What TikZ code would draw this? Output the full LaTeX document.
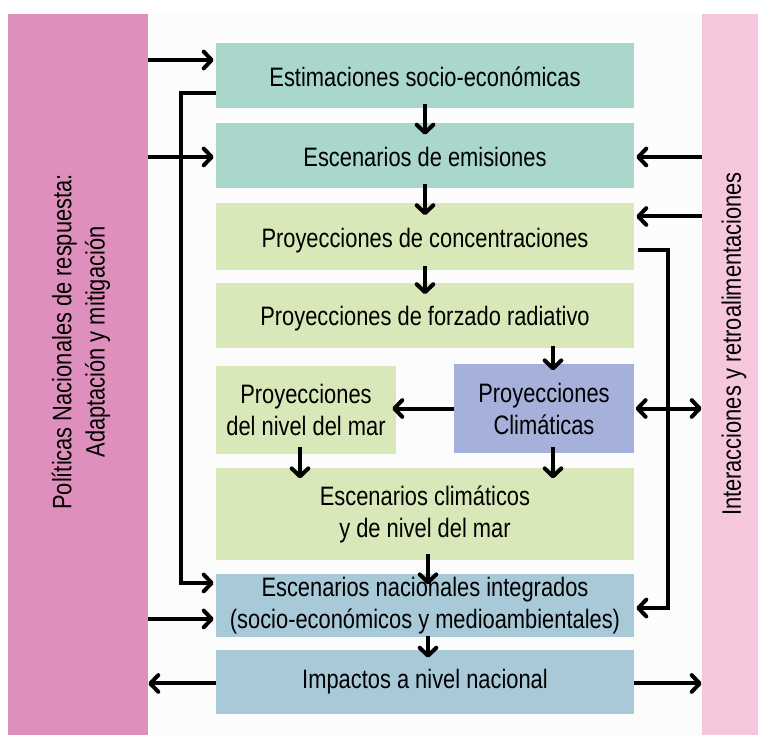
\documentclass[tikz,border=0pt]{standalone}
\usepackage{fontspec}
\setmainfont{Liberation Sans}[FakeStretch=0.82]
\usetikzlibrary{arrows.meta}
\definecolor{cteal}{HTML}{A9D7CB}
\definecolor{cgreen}{HTML}{D9E8B8}
\definecolor{clav}{HTML}{A6B1DB}
\definecolor{cblue}{HTML}{A8CAD8}
\definecolor{cpinkL}{HTML}{DF8FBC}
\definecolor{cpinkR}{HTML}{F5C6DC}
\definecolor{cpanel}{HTML}{FCFCFC}
\tikzset{
  bx/.style 2 args={draw=none, minimum width=#1*0.75pt, minimum height=#2*0.75pt, inner sep=0pt, align=center, font=\fontsize{20}{24}\selectfont},
  one/.style={text height=#1, text depth=0pt},
  tip/.tip={Straight Barb[length=6pt,width=12.5pt,line cap=round,line join=round]},
  arr/.style={line width=3pt, -tip},
  darr/.style={line width=3pt, tip-tip},
}
\begin{document}
\begin{tikzpicture}[x=0.75pt,y=-0.75pt]
\useasboundingbox (0,0) rectangle (758,735);
\fill[white] (0,0) rectangle (758,735);
\fill[cpanel] (148,14) rectangle (702,735);
% side bars
\node[bx={140}{721}, fill=cpinkL] (lb) at (78,374.5) {};
\node[bx={56}{721}, fill=cpinkR] (rb) at (730,374.5) {};
\node[rotate=90, align=center, font=\fontsize{20}{25}\selectfont] (lt) at (81,342) {Políticas Nacionales de respuesta:\\Adaptación y mitigación};
\node[rotate=90, font=\fontsize{20}{24}\selectfont] (rt) at (734,344) {Interacciones y retroalimentaciones};
% boxes
\node[bx={418}{65}, fill=cteal, one=16.5pt] (b1) at (425,75.5) {Estimaciones socio-económicas};
\node[bx={418}{65}, fill=cteal, one=15.8pt] (b2) at (425,155.5) {Escenarios de emisiones};
\node[bx={418}{66}, fill=cgreen, one=15.8pt] (b3) at (425,236.5) {Proyecciones de concentraciones};
\node[bx={418}{65}, fill=cgreen, one=16pt] (b4) at (425,315) {Proyecciones de forzado radiativo};
\node[bx={180}{88}, fill=cgreen] (b5) at (306,409.5) {Proyecciones\\del nivel del mar};
\node[bx={180}{89}, fill=clav] (b6) at (544,408.5) {Proyecciones\\Climáticas};
\node[bx={418}{92}, fill=cgreen] (b7) at (425,514) {Escenarios climáticos\\y de nivel del mar};
\node[bx={418}{63}, fill=cblue] (b8) at (425,605.5) {Escenarios nacionales integrados\\(socio-económicos y medioambientales)};
\node[bx={418}{64}, fill=cblue, one=9.8pt] (b9) at (425,682) {Impactos a nivel nacional};
% vertical flow arrows
\draw[arr] ([yshift=3pt]b1.south) -- ([yshift=-9pt]b2.north);
\draw[arr] ([yshift=3pt]b2.south) -- ([yshift=-9pt]b3.north);
\draw[arr] ([yshift=3pt]b3.south) -- ([yshift=-9pt]b4.north);
\draw[arr] ([xshift=6.75pt,yshift=1pt]b4.south -| b6.north) -- ([xshift=6.75pt,yshift=-5pt]b6.north);
\draw[arr] (b6.west) -- ([xshift=-3pt]b6.west -| b5.east);
\draw[arr] ([xshift=-4.5pt,yshift=5pt]b5.south) -- ([xshift=-4.5pt,yshift=-8pt]b7.north -| b5.south);
\draw[arr] ([xshift=6.75pt,yshift=5pt]b6.south) -- ([xshift=6.75pt,yshift=-8pt]b7.north -| b6.south);
\draw[arr] ([xshift=2.25pt,yshift=5pt]b7.south) -- ([xshift=2.25pt,yshift=-8pt]b8.north);
\draw[arr] ([xshift=2.25pt,yshift=1pt]b8.south) -- ([xshift=2.25pt,yshift=-6pt]b9.north);
% left bar arrows
\draw[arr] ([yshift=11.6pt]b1.west -| lb.east) -- ([xshift=-1.5pt,yshift=11.6pt]b1.west);
\draw[arr] ([yshift=-1.1pt]b2.west -| lb.east) -- ([xshift=-1.5pt,yshift=-1.1pt]b2.west);
\draw[arr] ([yshift=-10.1pt]b8.west -| lb.east) -- ([xshift=-1.5pt,yshift=-10.1pt]b8.west);
\draw[arr] ([yshift=-1.1pt]b9.west) -- ([yshift=-1.1pt]b9.west -| lb.east);
% left bracket
\draw[arr] ([yshift=-13.1pt]b1.west) -- ++(-35,0) |- ([xshift=-1.5pt,yshift=16.9pt]b8.west);
% right bar arrows
\draw[arr] ([yshift=-1.1pt]b2.east -| rb.west) -- ([xshift=1.5pt,yshift=-1.1pt]b2.east);
\draw[arr] ([yshift=15pt]b3.east -| rb.west) -- ([xshift=1.5pt,yshift=15pt]b3.east);
\draw[darr] ([xshift=1pt]b6.east) -- (b6.east -| rb.west);
\draw[arr] ([yshift=-1.1pt]b9.east) -- ([yshift=-1.1pt]b9.east -| rb.west);
% right bracket
\draw[arr] ([xshift=3pt,yshift=-9.75pt]b3.east) -- ++(30,0) |- ([xshift=1.5pt,yshift=-1.9pt]b8.east);
\end{tikzpicture}
\end{document}
